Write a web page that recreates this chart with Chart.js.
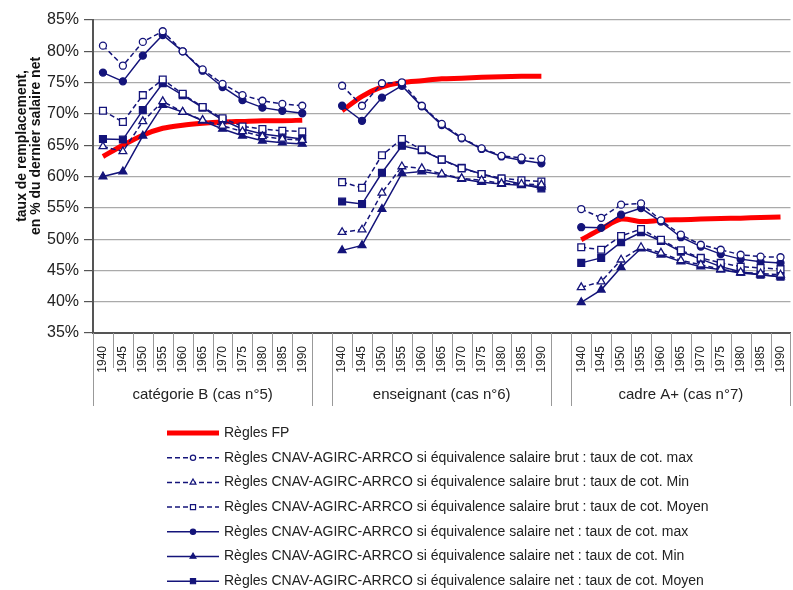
<!DOCTYPE html>
<html lang="fr">
<head>
<meta charset="utf-8">
<title>Taux de remplacement</title>
<script src="https://cdn.jsdelivr.net/npm/chart.js@4/dist/chart.umd.min.js"></script>
<style>
  html, body { margin: 0; padding: 0; background: #fff; overflow: hidden; }
  #cadre { position: relative; width: 800px; height: 590px; }
</style>
</head>
<body>
<div id="cadre"><canvas id="graphique"></canvas></div>
<script>
// données (en %)
const annees = ['1940', '1945', '1950', '1955', '1960', '1965', '1970', '1975', '1980', '1985', '1990'];
const groupes = ['catégorie B (cas n°5)', 'enseignant (cas n°6)', 'cadre A+ (cas n°7)'];
const yMin = 35, yMax = 85, yPas = 5;

const fpB = [63.2, 65.0, 66.6, 67.7, 68.2, 68.5, 68.7, 68.8, 68.9, 68.9, 69.0];
const fpEns = [70.5, 72.8, 74.3, 75.0, 75.3, 75.6, 75.7, 75.85, 75.95, 76.0, 76.0];
const fpCadre = [49.9, 51.6, 53.2, 52.8, 53.0, 53.1, 53.2, 53.3, 53.35, 53.45, 53.55];

const brutMaxB = [80.9, 77.7, 81.5, 83.2, 80.0, 77.1, 74.8, 73.0, 72.1, 71.6, 71.3];
const brutMaxEns = [74.5, 71.3, 74.9, 75.05, 71.3, 68.4, 66.2, 64.5, 63.3, 63.0, 62.8];
const brutMaxCadre = [54.8, 53.4, 55.5, 55.7, 53.0, 50.7, 49.1, 48.3, 47.5, 47.2, 47.1];

const brutMinB = [64.8, 64.0, 68.8, 72.0, 70.3, 69.0, 68.1, 67.2, 66.4, 66.0, 65.8];
const brutMinEns = [51.1, 51.5, 57.4, 61.6, 61.3, 60.4, 59.7, 59.4, 58.9, 58.8, 58.7];
const brutMinCadre = [42.3, 43.2, 46.7, 48.7, 47.8, 46.6, 45.9, 45.2, 44.7, 44.5, 44.3];

const brutMoyB = [70.5, 68.7, 73.0, 75.5, 73.2, 71.1, 69.3, 68.0, 67.6, 67.3, 67.2];
const brutMoyEns = [59.1, 58.2, 63.4, 66.0, 64.3, 62.7, 61.3, 60.4, 59.7, 59.4, 59.2];
const brutMoyCadre = [48.7, 48.3, 50.5, 51.6, 49.9, 48.2, 47.0, 46.2, 45.6, 45.4, 45.2];

const netMaxB = [76.6, 75.2, 79.3, 82.6, 80.0, 76.9, 74.3, 72.2, 71.0, 70.5, 70.1];
const netMaxEns = [71.3, 68.9, 72.6, 74.5, 71.2, 68.2, 66.1, 64.4, 63.2, 62.6, 62.1];
const netMaxCadre = [51.9, 51.8, 53.9, 54.95, 52.8, 50.3, 48.8, 47.6, 46.8, 46.4, 46.2];

const netMinB = [60.0, 60.8, 66.5, 71.4, 70.3, 68.9, 67.6, 66.5, 65.7, 65.4, 65.2];
const netMinEns = [48.2, 49.0, 54.8, 60.5, 60.8, 60.3, 59.6, 59.1, 58.8, 58.6, 58.4];
const netMinCadre = [39.9, 41.9, 45.5, 48.5, 47.5, 46.4, 45.6, 45.1, 44.6, 44.3, 44.0];

const netMoyB = [66.0, 65.9, 70.6, 74.9, 73.0, 71.0, 69.0, 67.6, 66.8, 66.4, 66.0];
const netMoyEns = [56.0, 55.6, 60.6, 64.9, 64.2, 62.7, 61.4, 60.4, 59.5, 58.8, 58.1];
const netMoyCadre = [46.2, 47.0, 49.5, 51.1, 49.7, 48.0, 46.8, 45.6, 44.8, 44.3, 44.0];

const BLEU = '#14147a';
const ROUGE = '#ff0000';
const POLICE = '"Liberation Sans", Arial, sans-serif';

// une case vide entre chaque groupe
function joindre(a, b, c) {
  return [...a, null, ...b, null, ...c];
}

const etiquettes = [...annees, '', ...annees, '', ...annees];

function serie(label, data, style, pointilles, ouvert, rayon) {
  return {
    label: label,
    data: data,
    borderColor: BLEU,
    borderWidth: 1.5,
    borderDash: pointilles ? [5, 3] : [],
    pointStyle: style,
    pointRadius: rayon,
    pointBorderWidth: 1.3,
    pointBorderColor: BLEU,
    pointBackgroundColor: ouvert ? '#ffffff' : BLEU,
    spanGaps: false,
    tension: 0,
    order: 0,
  };
}

const jeux = [
  {
    label: 'Règles FP',
    data: joindre(fpB, fpEns, fpCadre),
    borderColor: ROUGE,
    borderWidth: 5,
    pointRadius: 0,
    spanGaps: false,
    tension: 0.3,
    order: 1,
  },
  serie('Règles CNAV-AGIRC-ARRCO si équivalence salaire brut : taux de cot. max', joindre(brutMaxB, brutMaxEns, brutMaxCadre), 'circle', true, true, 3.5),
  serie('Règles CNAV-AGIRC-ARRCO si équivalence salaire brut : taux de cot. Min', joindre(brutMinB, brutMinEns, brutMinCadre), 'triangle', true, true, 4.5),
  serie('Règles CNAV-AGIRC-ARRCO si équivalence salaire brut : taux de cot. Moyen', joindre(brutMoyB, brutMoyEns, brutMoyCadre), 'rect', true, true, 4.8),
  serie('Règles CNAV-AGIRC-ARRCO si équivalence salaire net : taux de cot. max', joindre(netMaxB, netMaxEns, netMaxCadre), 'circle', false, false, 3.5),
  serie('Règles CNAV-AGIRC-ARRCO si équivalence salaire net : taux de cot. Min', joindre(netMinB, netMinEns, netMinCadre), 'triangle', false, false, 4.5),
  serie('Règles CNAV-AGIRC-ARRCO si équivalence salaire net : taux de cot. Moyen', joindre(netMoyB, netMoyEns, netMoyCadre), 'rect', false, false, 4.8),
];

// titre de l'axe Y, séparateurs et noms des groupes, légende
const decor = {
  id: 'decor',
  afterDraw(chart) {
    const ctx = chart.ctx;
    const x = chart.scales.x;
    const zone = chart.chartArea;
    const pas = x.width / etiquettes.length;

    ctx.save();

    // titre vertical
    ctx.fillStyle = '#111';
    ctx.font = 'bold 14px ' + POLICE;
    ctx.textAlign = 'center';
    ctx.textBaseline = 'middle';
    ctx.translate(22, 146);
    ctx.rotate(-Math.PI / 2);
    ctx.fillText('taux de remplacement,', 0, 0);
    ctx.fillText('en % du dernier salaire net', 0, 14);
    ctx.setTransform(1, 0, 0, 1, 0, 0);

    // traits sous l'axe
    ctx.strokeStyle = '#999';
    ctx.lineWidth = 1;
    const bords = [0, 11, 12, 23, 24, 35];
    for (let k = 0; k <= etiquettes.length; k++) {
      const px = Math.round(x.left + k * pas) + 0.5;
      const bas = bords.includes(k) ? 406 : 368;
      ctx.beginPath();
      ctx.moveTo(px, zone.bottom);
      ctx.lineTo(px, bas);
      ctx.stroke();
    }

    // noms des groupes
    ctx.fillStyle = '#222';
    ctx.font = '15px ' + POLICE;
    ctx.textBaseline = 'middle';
    for (let g = 0; g < groupes.length; g++) {
      const centre = x.left + (g * 12 + 5.5) * pas;
      ctx.fillText(groupes[g], centre, 395);
    }

    // légende
    const x0 = 167, long = 52, y0 = 433, ecart = 24.7;
    ctx.textAlign = 'left';
    ctx.font = '14px ' + POLICE;
    chart.data.datasets.forEach((ds, i) => {
      const y = y0 + i * ecart;
      ctx.save();
      ctx.strokeStyle = ds.borderColor;
      ctx.lineWidth = i === 0 ? 5 : 1.5;
      ctx.setLineDash(ds.borderDash || []);
      ctx.beginPath();
      ctx.moveTo(x0, y);
      ctx.lineTo(x0 + long, y);
      ctx.stroke();
      ctx.setLineDash([]);
      if (ds.pointRadius > 0) {
        ctx.fillStyle = ds.pointBackgroundColor;
        ctx.strokeStyle = ds.pointBorderColor;
        ctx.lineWidth = 1.2;
        Chart.helpers.drawPoint(ctx, {
          pointStyle: ds.pointStyle,
          radius: ds.pointRadius * 0.75,
          rotation: 0,
          borderWidth: 1.2,
        }, x0 + long / 2, y);
      }
      ctx.restore();
      ctx.fillStyle = '#222';
      ctx.fillText(ds.label, x0 + long + 5, y);
    });

    ctx.restore();
  }
};

function dessineGraphique() {
  const ctx = document.getElementById('graphique').getContext('2d');

  new Chart(ctx, {
    type: 'line',
    data: {
      labels: etiquettes,
      datasets: jeux,
    },
    options: {
      responsive: true,
      maintainAspectRatio: false,
      animation: false,
      layout: {
        padding: { top: 20, right: 2, bottom: 0, left: 0 },
      },
      plugins: {
        legend: { display: false },
        tooltip: { enabled: false },
      },
      scales: {
        x: {
          type: 'category',
          offset: true,
          grid: { display: false },
          border: { display: true, color: '#555', width: 2 },
          ticks: {
            autoSkip: false,
            maxRotation: 90,
            minRotation: 90,
            padding: 5,
            color: '#222',
            font: { family: POLICE, size: 12 },
          },
          afterFit: (echelle) => { echelle.height = 257; },
        },
        y: {
          min: yMin,
          max: yMax,
          ticks: {
            stepSize: yPas,
            padding: 5,
            color: '#222',
            font: { family: POLICE, size: 16 },
            callback: (v) => v + '%',
          },
          grid: {
            color: '#aaaaaa',
            lineWidth: 1.2,
            tickLength: 9,
            tickColor: '#555',
          },
          border: { display: true, color: '#555', width: 2 },
          afterFit: (echelle) => { echelle.width = 93; },
        },
      },
    },
    plugins: [decor],
  });
}

window.addEventListener('load', dessineGraphique);
</script>
</body>
</html>
